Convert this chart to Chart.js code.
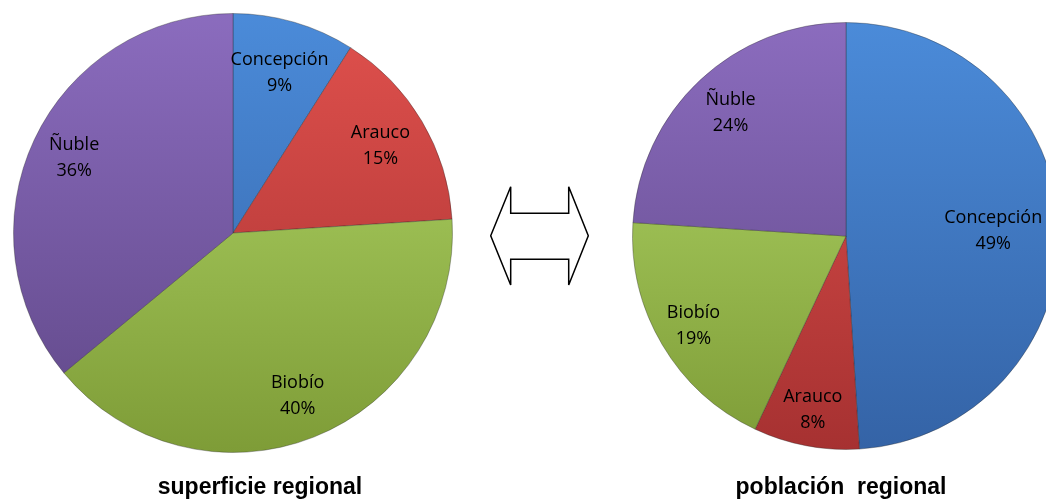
<!DOCTYPE html>
<html>
<head>
<meta charset="utf-8">
<script src="https://cdn.jsdelivr.net/npm/chart.js@4/dist/chart.umd.min.js"></script>
<style>
  html, body { margin: 0; padding: 0; background: #fff; overflow: hidden; width: 1046px; height: 500px; }
  .box { position: absolute; }
  .title { position: absolute; font-family: "Liberation Sans", Arial, sans-serif; font-weight: bold; font-size: 23px; line-height: 26px; color: #000; white-space: pre; transform: translateX(-50%); }
</style>
</head>
<body>
<div class="box" style="left:13px;top:13px;width:440px;height:440px;"><canvas id="superficie"></canvas></div>
<div class="box" style="left:632px;top:22px;width:428px;height:428px;"><canvas id="poblacion"></canvas></div>
<svg class="box" style="left:0;top:0;" width="1046" height="500">
  <polygon points="490.7,235.7 510.7,186.7 510.7,213.3 568.7,213.3 568.7,186.7 588.3,235.7 568.7,285 568.7,259.3 510.7,259.3 510.7,285"
           fill="#fff" stroke="#000" stroke-width="1.5" stroke-linejoin="miter"/>
</svg>
<div class="title" style="left:260px;top:473px;">superficie regional</div>
<div class="title" style="left:841px;top:473px;">población  regional</div>
<script>
// superficie regional (left pie)
const supLabels = ['Concepción', 'Arauco', 'Biobío', 'Ñuble'];
const supValues = [9, 15, 40, 36];
// población regional (right pie)
const pobLabels = ['Concepción', 'Arauco', 'Biobío', 'Ñuble'];
const pobValues = [49, 8, 19, 24];

// top -> bottom shades per region
const shades = {
  'Concepción': ['#4b8bd9', '#3463a6'],
  'Arauco': ['#e0514d', '#a63131'],
  'Biobío': ['#b4da6a', '#7e9c37'],
  'Ñuble': ['#8b6cbe', '#5f4787']
};

function sliceFill(labels) {
  return function (c) {
    const area = c.chart.chartArea;
    const s = shades[labels[c.dataIndex]];
    if (!area) return s[0];
    const g = c.chart.ctx.createLinearGradient(0, area.top, 0, area.bottom);
    g.addColorStop(0, s[0]);
    g.addColorStop(1, s[1]);
    return g;
  };
}

const insideLabels = {
  id: 'insideLabels',
  afterDatasetsDraw(chart, args, opts) {
    const ctx = chart.ctx;
    const meta = chart.getDatasetMeta(0);
    const data = chart.data.datasets[0].data;
    const total = data.reduce((a, b) => a + b, 0);
    ctx.save();
    ctx.font = '18px "Open Sans", sans-serif';
    ctx.fillStyle = '#000';
    ctx.textAlign = 'center';
    ctx.textBaseline = 'middle';
    meta.data.forEach((arc, i) => {
      const p = arc.getProps(['x', 'y', 'startAngle', 'endAngle', 'outerRadius'], true);
      const mid = (p.startAngle + p.endAngle) / 2;
      const r = p.outerRadius * opts.radius[i];
      const x = p.x + Math.cos(mid) * r;
      const y = p.y + Math.sin(mid) * r;
      ctx.fillText(chart.data.labels[i], x, y - 13);
      ctx.fillText(Math.round(data[i] / total * 100) + '%', x, y + 13);
    });
    ctx.restore();
  }
};

function makePie(id, labels, values, labelRadius) {
  return new Chart(document.getElementById(id).getContext('2d'), {
    type: 'pie',
    data: {
      labels: labels,
      datasets: [{
        data: values,
        backgroundColor: sliceFill(labels),
        borderColor: 'rgba(40,40,40,0.35)',
        borderWidth: 1
      }]
    },
    options: {
      responsive: true,
      maintainAspectRatio: false,
      animation: false,
      layout: { padding: 0 },
      plugins: {
        legend: { display: false },
        tooltip: { enabled: false },
        insideLabels: { radius: labelRadius }
      }
    },
    plugins: [insideLabels]
  });
}

makePie('superficie', supLabels, supValues, [0.76, 0.78, 0.8, 0.8]);
makePie('poblacion', pobLabels, pobValues, [0.69, 0.83, 0.83, 0.79]);
</script>
</body>
</html>
